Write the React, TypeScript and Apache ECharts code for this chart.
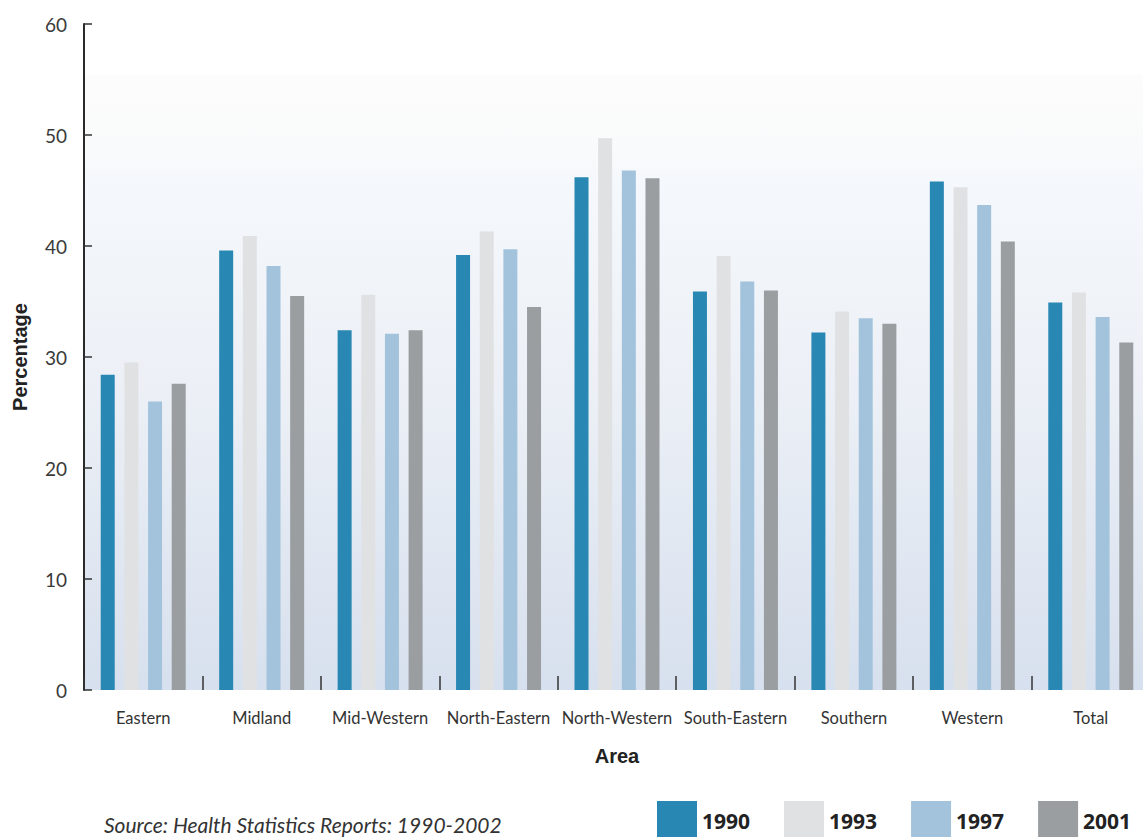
import React, { useEffect, useRef } from "react";
import * as echarts from "echarts";

const categories = ["Eastern", "Midland", "Mid-Western", "North-Eastern", "North-Western", "South-Eastern", "Southern", "Western", "Total"];
const years = ["1990", "1993", "1997", "2001"];
const values1990 = [28.4, 39.6, 32.4, 39.2, 46.2, 35.9, 32.2, 45.8, 34.9];
const values1993 = [29.5, 40.9, 35.6, 41.3, 49.7, 39.1, 34.1, 45.3, 35.8];
const values1997 = [26.0, 38.2, 32.1, 39.7, 46.8, 36.8, 33.5, 43.7, 33.6];
const values2001 = [27.6, 35.5, 32.4, 34.5, 46.1, 36.0, 33.0, 40.4, 31.3];
const seriesColors = ["#2887b3", "#e0e1e3", "#a3c3dc", "#9a9ea1"];
const sourceText = "Source: Health Statistics Reports: 1990-2002";

export default function App() {
  const ref = useRef<HTMLDivElement>(null);
  useEffect(() => {
    if (!ref.current) return;
    const chart = echarts.init(ref.current, undefined, { renderer: "svg" });
    const allValues = [values1990, values1993, values1997, values2001];
    chart.setOption({
      animation: false,
      backgroundColor: "#ffffff",
      grid: {
        left: 84,
        top: 24,
        bottom: 147,
        right: 1,
        show: true,
        borderWidth: 0,
        backgroundColor: new echarts.graphic.LinearGradient(0, 0, 0, 1, [
          { offset: 0, color: "#ffffff" },
          { offset: 0.075, color: "#ffffff" },
          { offset: 0.078, color: "#fcfcfc" },
          { offset: 0.2, color: "#f9fafb" },
          { offset: 0.23, color: "#f5f8fc" },
          { offset: 0.55, color: "#ecf0f6" },
          { offset: 1, color: "#d7e0ee" },
        ]),
      },
      legend: {
        left: 652,
        top: 796,
        itemWidth: 40,
        itemHeight: 40,
        itemGap: 34,
        icon: "rect",
        data: years,
        textStyle: {
          fontFamily: "'Open Sans', sans-serif",
          fontWeight: "bold",
          fontSize: 21,
          color: "#222",
          padding: [10, 0, 0, 0],
        },
      },
      xAxis: {
        type: "category",
        data: categories,
        name: "Area",
        nameLocation: "middle",
        nameGap: 56,
        nameTextStyle: {
          fontFamily: "'Liberation Sans', Arial, sans-serif",
          fontWeight: "bold",
          fontSize: 20,
          color: "#222",
        },
        axisLine: {
          lineStyle: { color: "#222", width: 3, shadowColor: "rgba(0,0,0,0.35)", shadowOffsetY: 2, shadowBlur: 1 },
        },
        axisTick: { show: true, interval: 0, inside: true, length: 14, lineStyle: { color: "#333", width: 1.5 } },
        axisLabel: {
          interval: 0,
          margin: 19,
          fontFamily: "Lato, sans-serif",
          fontSize: 16.5,
          color: "#333",
        },
      },
      yAxis: {
        type: "value",
        min: 0,
        max: 60,
        interval: 10,
        name: "Percentage",
        nameLocation: "middle",
        nameRotate: 90,
        nameGap: 54,
        nameTextStyle: {
          fontFamily: "'Liberation Sans', Arial, sans-serif",
          fontWeight: "bold",
          fontSize: 20,
          color: "#222",
        },
        axisLine: { show: true, lineStyle: { color: "#2a2a2a", width: 2 } },
        axisTick: { show: true, inside: true, length: 8, lineStyle: { color: "#333", width: 1.5 } },
        splitLine: { show: false },
        axisLabel: {
          margin: 17,
          fontFamily: "Lato, sans-serif",
          fontSize: 19,
          color: "#3a3a3a",
        },
      },
      graphic: [
        {
          type: "text",
          left: 104,
          top: 814,
          style: {
            text: sourceText,
            font: "italic 21px Lato, sans-serif",
            fill: "#333",
          },
        },
      ],
      series: years.map((y, i) => ({
        name: y,
        type: "bar",
        data: allValues[i],
        barWidth: 14,
        barGap: "69%",
        itemStyle: { color: seriesColors[i] },
      })),
    });
    return () => chart.dispose();
  }, []);
  return (
    <div style={{ position: "absolute", left: 0, top: 0, width: 1143, height: 837, overflow: "hidden" }}>
      <div ref={ref} style={{ position: "absolute", left: 0, top: 0, width: 1151, height: 837 }} />
    </div>
  );
}
